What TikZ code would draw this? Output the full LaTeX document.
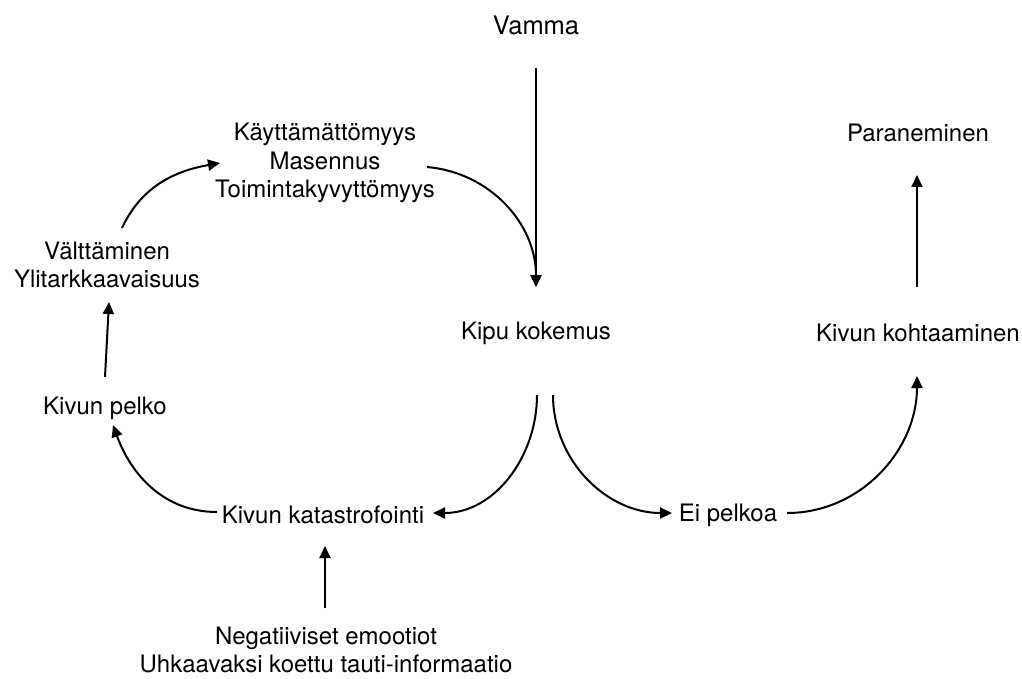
\documentclass[tikz,border=0pt]{standalone}
\usepackage{fontspec}
\setmainfont{TeX Gyre Heros}
\usetikzlibrary{arrows.meta}

\begin{document}
\begin{tikzpicture}[
        x=1pt, y=1pt,
        lbl/.style={align=center, inner sep=0pt, font=\fontsize{24}{28.5}\selectfont},
        arrow/.style={-{Triangle[length=12pt, width=11pt]}, line width=2pt}
    ]
        \useasboundingbox (0,0) rectangle (1022,-679);

        % Labels
        \node[lbl, font=\fontsize{25.5}{30}\selectfont] (vamma) at (536, -25) {Vamma};
        \node[lbl] (kipu) at (536, -333) {Kipu kokemus};
        \node[lbl] (kaytt) at (325, -163) {Käyttämättömyys\\Masennus\\Toimintakyvyttömyys};
        \node[lbl] (valtt) at (107, -265) {Välttäminen\\Ylitarkkaavaisuus};
        \node[lbl] (pelko) at (105, -408) {Kivun pelko};
        \node[lbl] (kata) at (323, -515) {Kivun katastrofointi};
        \node[lbl] (negat) at (326, -650) {Negatiiviset emootiot\\Uhkaavaksi koettu tauti-informaatio};
        \node[lbl] (eipel) at (728, -515) {Ei pelkoa};
        \node[lbl] (kohta) at (918, -333) {Kivun kohtaaminen};
        \node[lbl] (paran) at (918, -133) {Paraneminen};

        % Straight arrows
        \draw[arrow, line width=1.6pt] ([shift={(0,-43)}]vamma.center) -- ([shift={(0,46)}]kipu.center);
        \draw[arrow] ([shift={(-1,42)}]negat.center) -- ([shift={(2,-31)}]kata.center);
        \draw[arrow] ([shift={(0,31)}]pelko.center) -- ([shift={(2,-37)}]valtt.center);
        \draw[arrow] ([shift={(-1,46)}]kohta.center) -- ([shift={(-1,-42)}]paran.center);

        % Curved arrows
        \draw[arrow] ([shift={(102,-4)}]kaytt.center) to[out=-5, in=90] ([shift={(0,46)}]kipu.center);
        \draw[arrow] ([shift={(15,37)}]valtt.center) to[out=65, in=190] ([shift={(-105,0)}]kaytt.center);
        \draw[arrow] ([shift={(1,-62)}]kipu.center) to[out=-90, in=0] ([shift={(110,2)}]kata.center);
        \draw[arrow] ([shift={(17,-62)}]kipu.center) to[out=-90, in=180] ([shift={(-56,2)}]eipel.center);
        \draw[arrow] ([shift={(59,2)}]eipel.center) to[out=0, in=-90] ([shift={(-1,-43)}]kohta.center);
        \draw[arrow] ([shift={(-106,3)}]kata.center) to[out=180, in=-70] ([shift={(8,-17)}]pelko.center);
    \end{tikzpicture}
\end{document}
